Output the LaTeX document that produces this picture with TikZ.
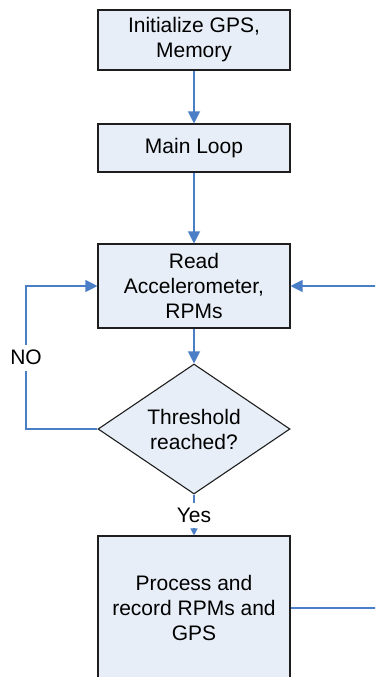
\documentclass[tikz,border=0pt]{standalone}
\usepackage{fontspec}
\setmainfont{Liberation Sans}
\usetikzlibrary{arrows.meta,shapes.geometric}
\definecolor{boxfill}{RGB}{232,238,247}
\definecolor{boxline}{RGB}{30,30,30}
\definecolor{flow}{RGB}{74,126,198}
\tikzset{
  procbox/.style={draw=boxline, fill=boxfill, line width=1.1pt, minimum width=192pt,
    align=center, inner sep=0pt, font=\fontsize{21}{25}\selectfont},
  decision/.style={diamond, draw=boxline, fill=boxfill, line width=1.1pt,
    minimum width=192pt, minimum height=130pt, inner sep=0pt, aspect=1.48,
    align=center, font=\fontsize{21}{25}\selectfont},
  flowline/.style={draw=flow, line width=1.2pt, -{Triangle[length=12pt,width=12pt]}},
  smallflow/.style={draw=flow, line width=1.2pt, -{Triangle[length=7pt,width=7pt]}},
  plainflow/.style={draw=flow, line width=1.2pt},
  lbl/.style={fill=white, inner sep=1pt, font=\fontsize{21}{25}\selectfont}
}
\begin{document}
\begin{tikzpicture}[x=1pt,y=-1pt]
  \useasboundingbox (0,0) rectangle (375,677);
  \clip (0,0) rectangle (375,677);

  \node[procbox, minimum height=60pt]  (init) at (194,40)  {Initialize GPS,\\Memory};
  \node[procbox, minimum height=48pt]  (loop) at (194,148) {Main Loop};
  \node[procbox, minimum height=84pt]  (read) at (194,286) {Read\\Accelerometer,\\RPMs};
  \node[decision]                      (thr)  at (194,429) {Threshold\\reached?};
  \node[procbox, minimum height=144pt] (proc) at (194,608) {Process and\\record RPMs and\\GPS};

  \coordinate (noleft) at (26,429);
  \coordinate (noup)   at (26,286);
  \coordinate (rdown)  at (390,608);
  \coordinate (rup)    at (390,286);

  \draw[flowline] (init) -- (loop);
  \draw[flowline] (loop) -- (read);
  \draw[flowline] (read) -- (thr);
  \draw[smallflow] (thr.south) -- node[lbl, minimum height=25pt] {Yes} (proc.north);
  \draw[flowline] (thr.west) -- (noleft) -- node[lbl, minimum height=26pt] {NO} (noup) -- (read.west);
  \draw[flowline] (proc.east) -- (rdown) -- (rup) -- (read.east);
\end{tikzpicture}
\end{document}
